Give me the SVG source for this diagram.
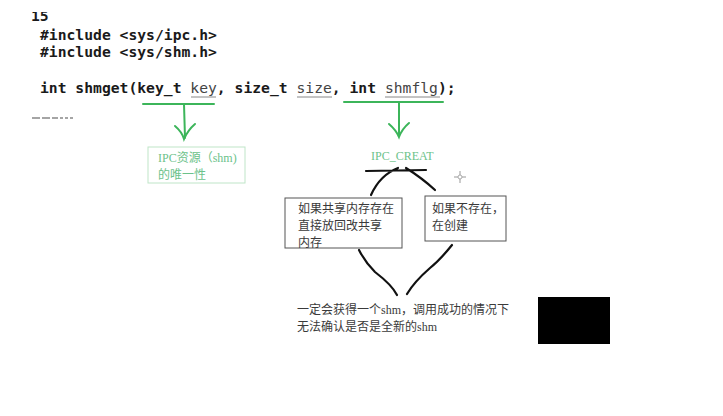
<svg xmlns="http://www.w3.org/2000/svg" width="723" height="416" viewBox="0 0 723 416">
<style>
.code{font-family:"DejaVu Sans Mono","Liberation Mono",monospace;font-weight:bold;font-size:14.7px;fill:#1a1a1a}
.arg{font-weight:normal;fill:#444}
.cn{font-family:"Liberation Serif","Noto Sans CJK SC",serif;font-size:12px;fill:#3a3a3a}
.gt{font-family:"Liberation Serif","Noto Sans CJK SC",serif;font-size:12px;fill:#6cc28a}
.g{stroke:#3cb55a;stroke-width:2;fill:none;stroke-linecap:round}
.k{stroke:#111;stroke-width:2.2;fill:none;stroke-linecap:round}
.box{fill:#fff;stroke:#555;stroke-width:1}
.ul{stroke:#888;stroke-width:1}
</style>
<rect width="723" height="416" fill="#fff"/>
<g id="code">
<text class="code" x="31" y="21">15</text>
<rect x="0" y="0" width="80" height="12" fill="#fff"/>
<text class="code" x="40" y="40">#include &lt;sys/ipc.h&gt;</text>
<text class="code" x="40" y="57">#include &lt;sys/shm.h&gt;</text>
<text class="code" x="40" y="93">int shmget(key_t <tspan class="arg">key</tspan>, size_t <tspan class="arg">size</tspan>, int <tspan class="arg">shmflg</tspan>);</text>
<line class="ul" x1="191" y1="97" x2="216" y2="97"/>
<line class="ul" x1="297" y1="97" x2="332" y2="97"/>
<line class="ul" x1="385" y1="97" x2="440" y2="97"/>
<path d="M32 118h8M42 118h8M52 118h6M60 118h3M65 118h3M70 118h3" stroke="#888" stroke-width="1.5"/>
</g>
<g id="connectors">
<path class="g" d="M143 104L214 104M184 104L185 138M175 126Q182 132 184 139Q188 130 195 124"/>
<path class="g" d="M344 102L443 102M399 102L399 135M389 124Q396 130 399 137Q402 129 409 123"/>
<path class="k" d="M366 171L426 170M398 168Q380 175 371 195M406 168Q422 178 435 190"/>
<path class="k" d="M359 250Q365 262 375 272Q392 285 397 295M452 245Q440 260 430 268Q414 282 407 294"/>
</g>
<g id="key-note">
<rect x="148" y="147" width="97" height="36" fill="#fff" stroke="#bfe5c8" stroke-width="1"/>
<text class="gt" x="158" y="162">IPC资源（shm)</text>
<text class="gt" x="158" y="179">的唯一性</text>
</g>
<g id="ipc-creat">
<text class="gt" x="371" y="160" font-size="11">IPC_CREAT</text>
</g>
<g id="exists">
<rect class="box" x="285" y="198" width="117" height="50"/>
<text class="cn" x="298" y="213">如果共享内存存在</text>
<text class="cn" x="298" y="230">直接放回改共享</text>
<text class="cn" x="298" y="247">内存</text>
</g>
<g id="not-exists">
<rect class="box" x="425" y="196" width="81" height="45"/>
<text class="cn" x="432" y="213">如果不存在，</text>
<text class="cn" x="432" y="230">在创建</text>
</g>
<g id="result">
<text class="cn" x="297" y="314">一定会获得一个shm，调用成功的情况下</text>
<text class="cn" x="297" y="331">无法确认是否是全新的shm</text>
</g>
<rect x="538" y="297" width="72" height="47" fill="#000"/>
<path d="M460 171V183M454 177H466" stroke="#999" stroke-width="1"/>
<circle cx="460" cy="177" r="2" fill="#fff" stroke="#999" stroke-width="0.8"/>
</svg>
